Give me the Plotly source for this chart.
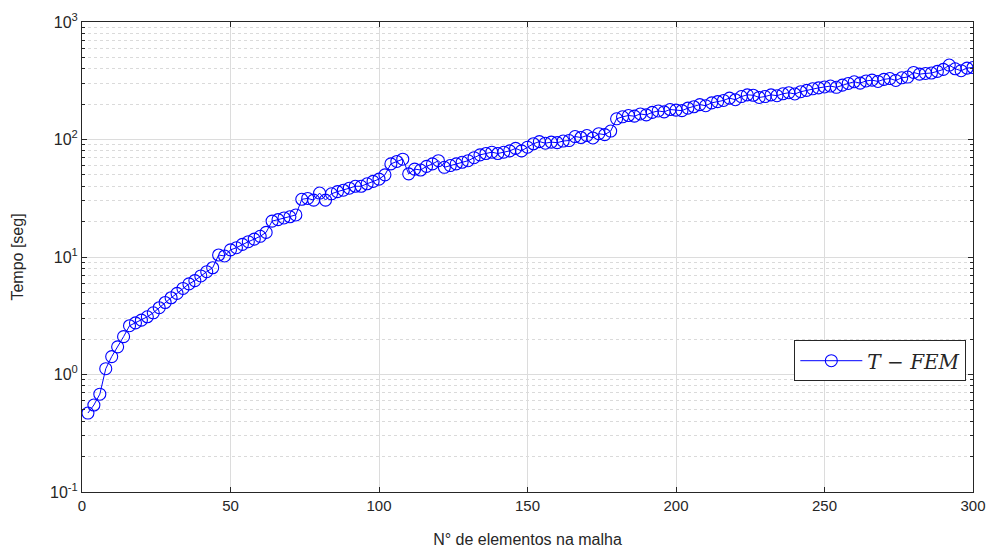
import plotly.graph_objects as go

n_elem = list(range(2, 302, 2))
tempo = [
    # 2-44
    0.47, 0.55, 0.68, 1.12, 1.42, 1.72, 2.1, 2.6, 2.75, 2.9, 3.1, 3.35, 3.7, 4.1, 4.5,
    4.9, 5.4, 5.9, 6.3, 6.9, 7.5, 8.1,
    # 46-62
    10.4, 10.2, 11.5, 12.0, 12.8, 13.5, 14.2, 15.0, 16.2,
    # 64-72
    20.2, 20.8, 21.5, 22.0, 22.8,
    # 74-100
    31.0, 31.5, 30.5, 35.0, 30.5, 34.5, 36.0, 37.0, 38.5, 40.0, 40.0, 42.0, 44.0, 46.0,
    # 102-108
    50, 62, 65, 68,
    # 110-128
    51, 56, 55, 59, 62, 66, 58, 60, 62, 64,
    # 130-148
    66, 70, 74, 76, 78, 76, 78, 80, 84, 80,
    # 150-168
    86, 92, 96, 93, 95, 94, 97, 98, 106, 104,
    # 170-188
    108, 103, 112, 110, 118, 150, 156, 160, 158, 165,
    # 190-208
    162, 170, 175, 172, 180, 178, 176, 185, 190, 198,
    # 210-228
    194, 205, 210, 215, 225, 218, 232, 240, 238, 228,
    # 230-248
    232, 240, 236, 245, 250, 244, 255, 262, 270, 275,
    # 250-268
    280, 285, 278, 290, 300, 310, 302, 315, 320, 312,
    # 270-288
    325, 330, 318, 335, 340, 372, 360, 365, 368, 380,
    # 290-300
    395, 430, 400, 385, 405, 410,
]

x_ticks = [0, 50, 100, 150, 200, 250, 300]
y_tickvals = [0.1, 1, 10, 100, 1000]
y_ticktext = ["10<sup>-1</sup>", "10<sup>0</sup>", "10<sup>1</sup>", "10<sup>2</sup>", "10<sup>3</sup>"]

axcol = "#262626"
gridcol = "#dcdcdc"

fig = go.Figure()
fig.add_trace(go.Scatter(
    x=n_elem, y=tempo, mode="lines+markers",
    name="<i>T</i> \u2212 <i>FEM</i>",
    line=dict(color="#0000ff", width=1),
    marker=dict(symbol="circle-open", size=12, color="#0000ff", line=dict(width=1.1, color="#0000ff")),
))

fig.update_layout(
    width=990, height=550,
    margin=dict(l=82, r=17, t=22, b=58),
    paper_bgcolor="white", plot_bgcolor="white",
    font=dict(family="Liberation Sans, Arial, sans-serif", size=15, color=axcol),
    showlegend=True,
    legend=dict(
        x=0.9925, y=0.323, xanchor="right", yanchor="top",
        bgcolor="white", bordercolor=axcol, borderwidth=1,
        font=dict(family="DejaVu Serif, serif", size=20, color=axcol),
        itemwidth=62,
    ),
)

fig.update_xaxes(
    range=[0, 300], tickvals=x_ticks, automargin=False,
    showgrid=True, gridcolor=gridcol, gridwidth=1,
    showline=True, linecolor=axcol, linewidth=1, mirror="ticks",
    ticks="inside", ticklen=5, tickcolor=axcol,
    zeroline=False,
    title=dict(text="N° de elementos na malha", font=dict(size=16), standoff=20),
    tickfont=dict(size=15),
)

fig.update_yaxes(
    type="log", range=[-1, 3], automargin=False,
    tickvals=y_tickvals, ticktext=y_ticktext,
    showgrid=True, gridcolor=gridcol, gridwidth=1,
    showline=True, linecolor=axcol, linewidth=1, mirror="ticks",
    ticks="inside", ticklen=5, tickcolor=axcol,
    minor=dict(dtick="D1", showgrid=True, gridcolor="#dadada", griddash="dot",
               ticks="inside", ticklen=3, tickcolor=axcol),
    zeroline=False,
    title=dict(text="Tempo [seg]", font=dict(size=16), standoff=22),
    tickfont=dict(size=16),
)

fig.write_html("out.html")
